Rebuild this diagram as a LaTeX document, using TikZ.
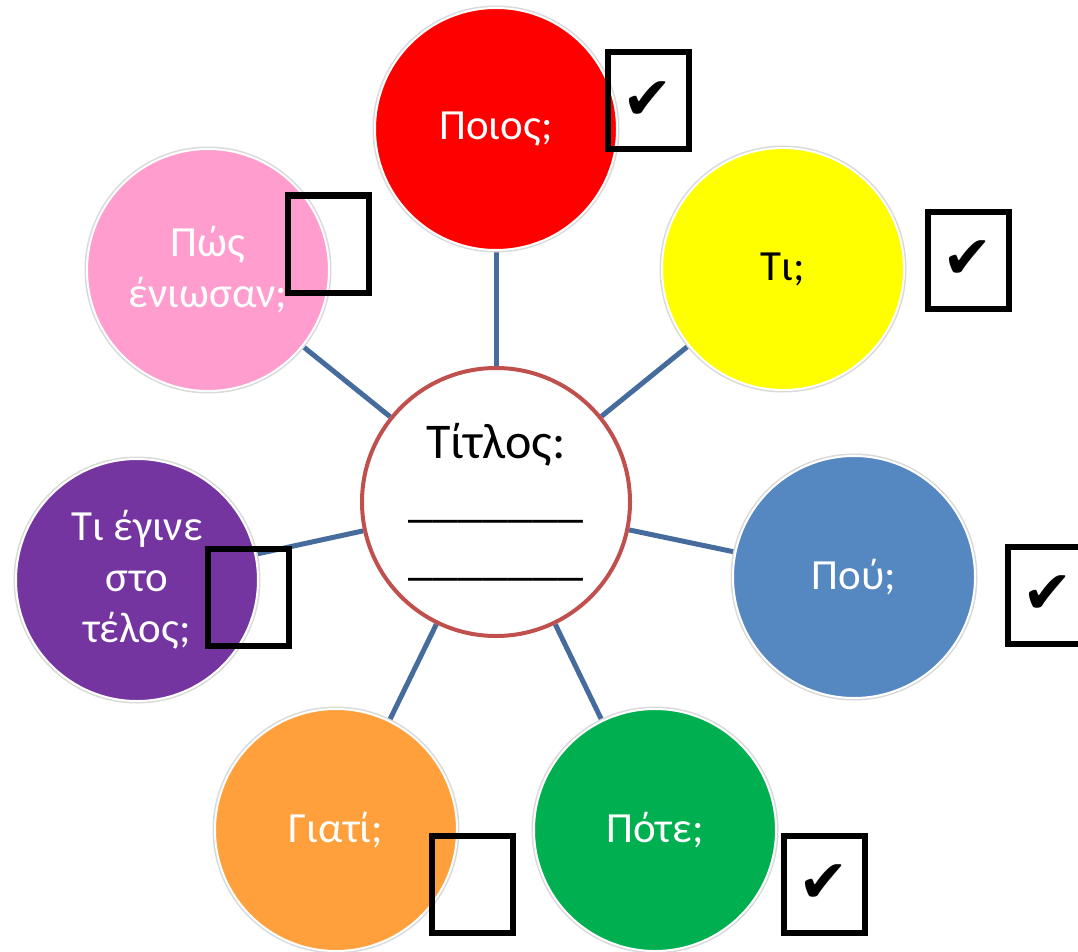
\documentclass[tikz,border=0pt]{standalone}
\usepackage{fontspec}
\setmainfont{Carlito}
\newfontfamily\symfont{DejaVu Sans}
\usetikzlibrary{backgrounds}
\definecolor{pwspink}{RGB}{255,158,206}
\definecolor{telospurple}{RGB}{116,53,160}
\definecolor{giatiorange}{RGB}{255,160,60}
\definecolor{potegreen}{RGB}{0,176,80}
\definecolor{poublue}{RGB}{85,136,193}
\definecolor{tiyellow}{RGB}{255,255,0}
\definecolor{poiosred}{RGB}{255,0,0}
\definecolor{titlered}{RGB}{192,80,77}
\definecolor{linkblue}{RGB}{70,108,158}
\begin{document}
\begin{tikzpicture}[x=1pt,y=-1pt,
  bubble/.style={circle,inner sep=0pt,minimum size=242pt,fill=#1,draw=white,line width=2pt,
    preaction={draw=black!15,line width=5pt},text=white,align=center,
    font=\fontsize{43}{51}\selectfont},
  tickbox/.style={draw=black,line width=6pt,minimum width=81pt,minimum height=97pt,inner sep=0pt,
    font=\symfont\fontsize{60}{60}\selectfont},
  link/.style={draw=linkblue,line width=5pt}]
\useasboundingbox (0,0) rectangle (1078,952);
% the seven questions
\node[bubble=poiosred] (poios) at (496,129) {Ποιος;};
\node[bubble=tiyellow,text=black] (ti) at (783,269) {Τι;};
\node[bubble=poublue] (pou) at (854,577) {Πού;};
\node[bubble=potegreen] (pote) at (655,830) {Πότε;};
\node[bubble=giatiorange] (giati) at (336,830) {Γιατί;};
\node[bubble=telospurple] (telos) at (137,580) {Τι έγινε\\στο\\τέλος;};
\node[bubble=pwspink] (pws) at (208,270) {Πώς\\ένιωσαν;};
% title in the middle
\node[circle,draw=titlered,line width=4pt,fill=white,minimum size=268pt,align=center,
  font=\fontsize{50}{58}\selectfont] (titlos) at (496,502)
  {Τίτλος:\\\_\_\_\_\_\_\_\\\_\_\_\_\_\_\_};
\begin{scope}[on background layer]
\foreach \q in {poios,ti,pou,pote,giati,telos,pws}
  \draw[link] (titlos) -- (\q);
\end{scope}
% boxes to tick
\node[tickbox] (bpoios) at (648,101) {✔};
\node[tickbox] (bti) at (968,260) {✔};
\node[tickbox] (bpou) at (1048,595) {✔};
\node[tickbox] (bpote) at (824,884) {✔};
\node[tickbox] (bgiati) at (472,884) {};
\node[tickbox] (btelos) at (248,597) {};
\node[tickbox] (bpws) at (328,244) {};
\end{tikzpicture}
\end{document}
